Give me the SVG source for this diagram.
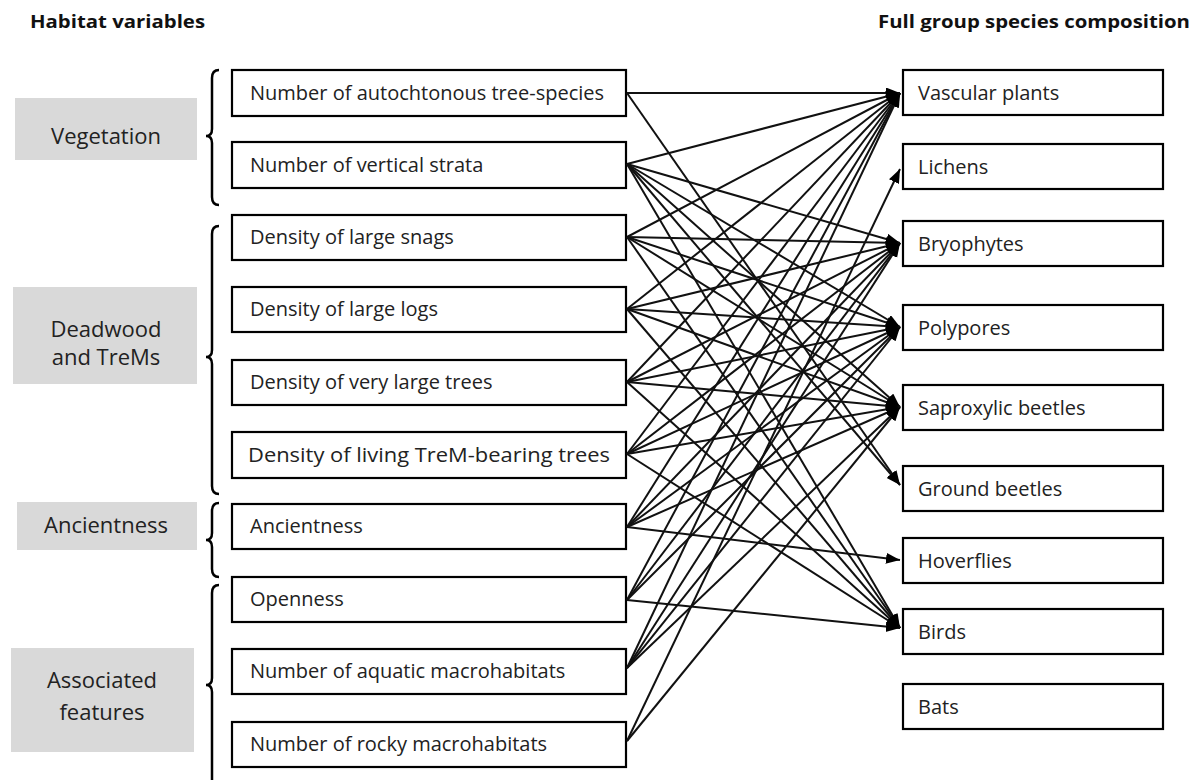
<svg xmlns="http://www.w3.org/2000/svg" width="1200" height="780" viewBox="0 0 1200 780">
<style>
.hdr{font-family:"Open Sans","Liberation Sans",sans-serif;font-weight:bold;font-size:18px;fill:#111}
.cat{fill:#d9d9d9}
.ct{font-family:"Open Sans","Liberation Sans",sans-serif;font-size:22px;fill:#222;text-anchor:middle}
.box{fill:#fff;stroke:#000;stroke-width:2.2}
.t{font-family:"Open Sans","Liberation Sans",sans-serif;font-size:20px;fill:#222}
.br{fill:none;stroke:#000;stroke-width:2.5}
.e{stroke:#111;stroke-width:2;fill:none;marker-end:url(#ah)}
</style>
<defs>
<marker id="ah" markerUnits="userSpaceOnUse" markerWidth="15" markerHeight="12" refX="14" refY="5.5" orient="auto">
<path d="M0,0 L14,5.5 L0,11 z" fill="#000"/>
</marker>
</defs>
<rect width="1200" height="780" fill="#fff"/>
<text class="hdr" x="30" y="28" textLength="175" lengthAdjust="spacingAndGlyphs">Habitat variables</text>
<text class="hdr" x="878" y="28" textLength="312" lengthAdjust="spacingAndGlyphs">Full group species composition</text>

<g id="cat-vegetation"><rect class="cat" x="15" y="98" width="182" height="62"/><text class="ct" x="106" y="144">Vegetation</text></g>
<g id="cat-deadwood"><rect class="cat" x="13" y="287" width="184" height="97"/><text class="ct" x="106" y="337">Deadwood</text><text class="ct" x="106" y="365">and TreMs</text></g>
<g id="cat-ancientness"><rect class="cat" x="17" y="502" width="180" height="48"/><text class="ct" x="106" y="533">Ancientness</text></g>
<g id="cat-associated"><rect class="cat" x="11" y="648" width="183" height="104"/><text class="ct" x="102" y="688">Associated</text><text class="ct" x="102" y="720">features</text></g>

<g id="braces">
<path class="br" d="M219,70 Q212,70 212,78 L212,129 Q212,136 206,136 Q212,136 212,143 L212,197 Q212,205 219,205"/>
<path class="br" d="M219,226 Q212,226 212,234 L212,350 Q212,357 206,357 Q212,357 212,364 L212,486 Q212,494 219,494"/>
<path class="br" d="M219,503 Q212,503 212,511 L212,533 Q212,540 206,540 Q212,540 212,547 L212,569 Q212,577 219,577"/>
<path class="br" d="M219,585 Q212,585 212,593 L212,678 Q212,685 206,685 Q212,685 212,692 L212,780"/>
</g>

<g id="src1"><rect class="box" x="232" y="70" width="394" height="46"/><text class="t" x="250" y="100">Number of autochtonous tree-species</text></g>
<g id="src2"><rect class="box" x="232" y="142" width="394" height="46"/><text class="t" x="250" y="172">Number of vertical strata</text></g>
<g id="src3"><rect class="box" x="232" y="215" width="394" height="45"/><text class="t" x="250" y="244">Density of large snags</text></g>
<g id="src4"><rect class="box" x="232" y="287" width="394" height="45"/><text class="t" x="250" y="316">Density of large logs</text></g>
<g id="src5"><rect class="box" x="232" y="360" width="394" height="45"/><text class="t" x="250" y="389">Density of very large trees</text></g>
<g id="src6"><rect class="box" x="232" y="432" width="394" height="46"/><text class="t" x="248" y="462" textLength="362" lengthAdjust="spacingAndGlyphs">Density of living TreM-bearing trees</text></g>
<g id="src7"><rect class="box" x="232" y="504" width="394" height="45"/><text class="t" x="250" y="533">Ancientness</text></g>
<g id="src8"><rect class="box" x="232" y="577" width="394" height="45"/><text class="t" x="250" y="606">Openness</text></g>
<g id="src9"><rect class="box" x="232" y="649" width="394" height="45"/><text class="t" x="250" y="678">Number of aquatic macrohabitats</text></g>
<g id="src10"><rect class="box" x="232" y="722" width="394" height="45"/><text class="t" x="250" y="751">Number of rocky macrohabitats</text></g>

<g id="tgt-vascular"><rect class="box" x="903" y="70" width="260" height="45"/><text class="t" x="918" y="100">Vascular plants</text></g>
<g id="tgt-lichens"><rect class="box" x="903" y="144" width="260" height="45"/><text class="t" x="918" y="174">Lichens</text></g>
<g id="tgt-bryophytes"><rect class="box" x="903" y="221" width="260" height="45"/><text class="t" x="918" y="251">Bryophytes</text></g>
<g id="tgt-polypores"><rect class="box" x="903" y="305" width="260" height="45"/><text class="t" x="918" y="335">Polypores</text></g>
<g id="tgt-saproxylic"><rect class="box" x="903" y="385" width="260" height="45"/><text class="t" x="918" y="415">Saproxylic beetles</text></g>
<g id="tgt-ground"><rect class="box" x="903" y="466" width="260" height="45"/><text class="t" x="918" y="496">Ground beetles</text></g>
<g id="tgt-hoverflies"><rect class="box" x="903" y="538" width="260" height="45"/><text class="t" x="918" y="568">Hoverflies</text></g>
<g id="tgt-birds"><rect class="box" x="903" y="609" width="260" height="45"/><text class="t" x="918" y="639">Birds</text></g>
<g id="tgt-bats"><rect class="box" x="903" y="684" width="260" height="45"/><text class="t" x="918" y="714">Bats</text></g>

<g id="connectors">
<line class="e" x1="627" y1="93" x2="900" y2="93"/>
<line class="e" x1="627" y1="93" x2="900" y2="485"/>
<line class="e" x1="627" y1="164" x2="900" y2="93"/>
<line class="e" x1="627" y1="164" x2="900" y2="243"/>
<line class="e" x1="627" y1="164" x2="900" y2="327"/>
<line class="e" x1="627" y1="164" x2="900" y2="407"/>
<line class="e" x1="627" y1="164" x2="900" y2="485"/>
<line class="e" x1="627" y1="164" x2="900" y2="628"/>
<line class="e" x1="627" y1="237" x2="900" y2="93"/>
<line class="e" x1="627" y1="237" x2="900" y2="243"/>
<line class="e" x1="627" y1="237" x2="900" y2="327"/>
<line class="e" x1="627" y1="237" x2="900" y2="407"/>
<line class="e" x1="627" y1="237" x2="900" y2="628"/>
<line class="e" x1="627" y1="309" x2="900" y2="93"/>
<line class="e" x1="627" y1="309" x2="900" y2="243"/>
<line class="e" x1="627" y1="309" x2="900" y2="327"/>
<line class="e" x1="627" y1="309" x2="900" y2="407"/>
<line class="e" x1="627" y1="309" x2="900" y2="628"/>
<line class="e" x1="627" y1="382" x2="900" y2="93"/>
<line class="e" x1="627" y1="382" x2="900" y2="243"/>
<line class="e" x1="627" y1="382" x2="900" y2="327"/>
<line class="e" x1="627" y1="382" x2="900" y2="407"/>
<line class="e" x1="627" y1="382" x2="900" y2="628"/>
<line class="e" x1="627" y1="454" x2="900" y2="93"/>
<line class="e" x1="627" y1="454" x2="900" y2="243"/>
<line class="e" x1="627" y1="454" x2="900" y2="327"/>
<line class="e" x1="627" y1="454" x2="900" y2="407"/>
<line class="e" x1="627" y1="454" x2="900" y2="628"/>
<line class="e" x1="627" y1="527" x2="900" y2="93"/>
<line class="e" x1="627" y1="527" x2="900" y2="243"/>
<line class="e" x1="627" y1="527" x2="900" y2="327"/>
<line class="e" x1="627" y1="527" x2="900" y2="407"/>
<line class="e" x1="627" y1="527" x2="900" y2="560"/>
<line class="e" x1="627" y1="600" x2="900" y2="93"/>
<line class="e" x1="627" y1="600" x2="900" y2="243"/>
<line class="e" x1="627" y1="600" x2="900" y2="327"/>
<line class="e" x1="627" y1="600" x2="900" y2="628"/>
<line class="e" x1="627" y1="668" x2="900" y2="93"/>
<line class="e" x1="627" y1="668" x2="900" y2="243"/>
<line class="e" x1="627" y1="668" x2="900" y2="327"/>
<line class="e" x1="627" y1="668" x2="900" y2="407"/>
<line class="e" x1="627" y1="741" x2="900" y2="169"/>
<line class="e" x1="627" y1="741" x2="900" y2="407"/>
</g>
</svg>
